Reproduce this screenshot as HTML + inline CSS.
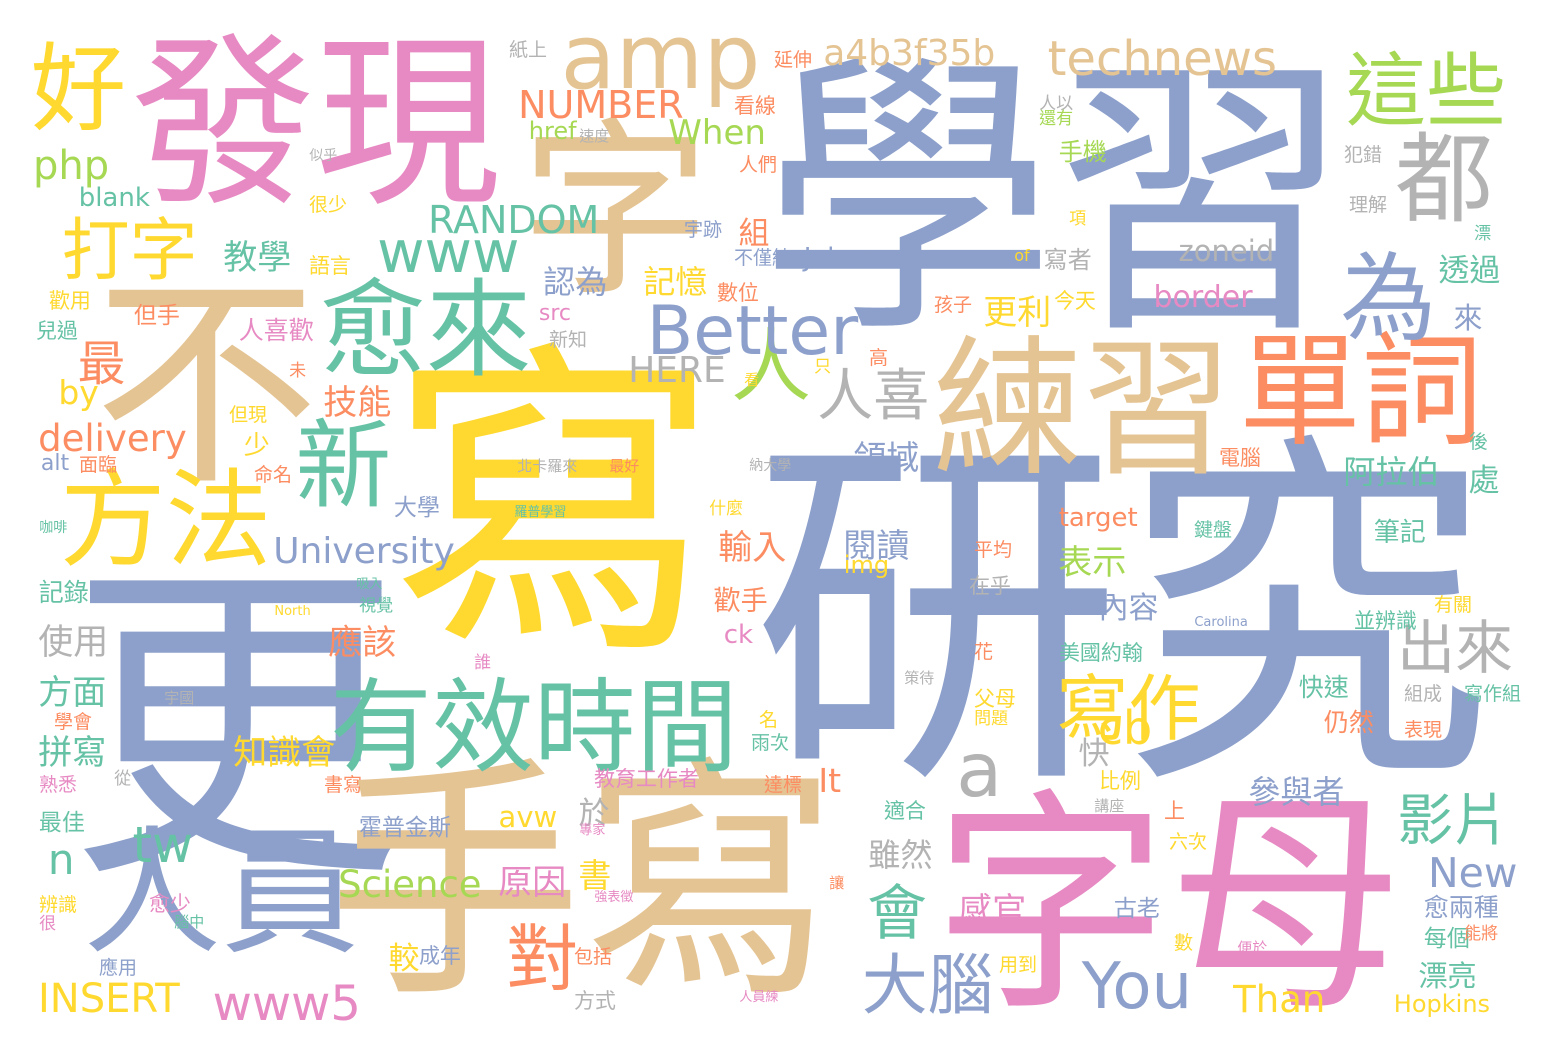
<!DOCTYPE html>
<html><head><meta charset="utf-8">
<style>
html,body{margin:0;padding:0;background:#fff;}
#cloud{position:relative;width:1548px;height:1052px;overflow:hidden;background:#fff;}
#cloud span{position:absolute;line-height:1;white-space:nowrap;font-family:"DejaVu Sans","Noto Sans CJK TC",sans-serif;}
</style></head>
<body>
<div id="cloud"></div>
<script>
const B='#8da0cb',P='#e78ac3',T='#e5c494',Y='#ffd92f',G='#66c2a5',O='#fc8d62',L='#a6d854',R='#b3b3b3';
// [word, glyph-left, glyph-top, font-size, colour]
const words=[
['學習',775,75,295,B],['研究',770,460,370,B],['寫',405,365,330,Y],['更',85,585,335,B],
['不',105,290,225,T],['手寫',340,775,255,T],['字母',945,805,235,P],['發現',140,45,185,P],
['字',530,130,190,T],['人員',90,835,138,B],['練習',940,345,150,T],['單詞',1245,340,122,O],
['愈來',325,285,106,G],['有效時間',335,685,102,G],['新',300,425,96,G],['方法',65,475,106,Y],
['這些',1350,58,80,L],['都',1400,138,98,R],['為',1345,258,96,B],['好',35,48,96,Y],
['amp',565,40,90,T],['a4b3f35b',825,40,36,T],['technews',1050,40,48,T],
['打字',65,223,68,Y],['人',735,333,80,L],['人喜',820,373,56,R],['Better',650,305,68,B],
['www',380,240,58,G],['RANDOM',430,205,38,G],['NUMBER',520,90,38,O],['When',670,120,34,L],
['php',35,150,40,L],['blank',80,188,26,G],['href',530,122,24,L],['教學',225,243,34,G],
['最',80,343,48,O],['by',60,380,33,Y],['delivery',40,424,37,O],['University',275,538,36,B],
['記錄',40,582,25,G],['使用',40,628,35,R],['方面',40,678,34,G],['拼寫',40,738,34,G],
['最佳',40,814,23,G],['n',50,852,42,G],['tw',135,825,50,G],['INSERT',40,983,40,Y],
['www5',215,985,48,P],['Science',340,870,37,L],['原因',500,868,34,P],['對',510,928,72,O],
['大腦',865,958,66,B],['You',1085,962,64,B],['會',870,888,60,G],['寫作',1060,678,72,Y],
['出來',1400,623,58,R],['影片',1400,798,56,G],['漂亮',1420,964,29,G],['New',1430,858,41,B],
['Than',1235,985,37,Y],['Hopkins',1395,995,24,Y],['zoneid',1180,240,29,R],['border',1155,286,30,P],
['透過',1440,258,31,G],['阿拉伯',1345,458,32,G],['處',1470,468,31,G],['筆記',1375,522,26,G],
['a',960,755,75,R],['領域',855,443,33,B],['閱讀',845,531,33,B],['更利',985,298,34,Y],
['HERE',630,357,36,R],['技能',325,388,34,O],['cb',1100,710,46,Y],['參與者',1250,778,32,B],
['表示',1060,548,34,L],['內容',1100,596,30,B],['認為',545,268,32,B],['記憶',645,268,32,Y],
['組',740,221,31,O],['輸入',720,533,34,O],['歡手',715,590,27,O],['應該',330,628,34,O],
['知識會',235,738,34,Y],['雖然',870,841,32,R],['感官',960,896,34,P],['人喜歡',240,320,25,P],
['少',245,435,26,Y],['It',820,768,33,O],['avw',500,812,29,Y],['於',580,801,31,R],
['書',580,861,33,Y],['較',390,946,31,Y],['快速',1300,677,25,G],['快',1080,741,31,R],
['target',1060,508,26,O],['每個',1425,930,23,G],['愈兩種',1425,897,25,B],['古老',1115,900,23,B],
['來',1455,306,29,B],['手機',1060,142,24,L],['Johns',805,248,26,B],['不僅練',735,250,19,B],
['img',845,560,24,Y],['src',540,310,22,P],['新知',550,332,19,R],['alt',42,455,22,B],
['ck',725,625,26,P],['Carolina',1195,617,13,B],['North',275,606,13,Y],['of',1015,250,16,Y],
['寫者',1045,250,24,R],['今天',1055,292,21,Y],['孩子',935,297,19,O],['理解',1350,197,19,R],
['犯錯',1345,147,19,R],['人以',1040,97,17,R],['還有',1040,112,17,L],['紙上',510,42,19,R],
['延伸',775,52,19,O],['看線',735,97,21,O],['速度',580,130,15,R],['似乎',310,150,14,R],
['人們',740,157,19,O],['很少',310,197,19,Y],['宇跡',685,222,19,B],['語言',310,257,21,Y],
['數位',718,284,21,O],['項',1070,212,17,Y],['漂',1475,227,17,G],['歡用',50,292,21,Y],
['但手',135,307,23,O],['兒過',37,322,21,G],['未',290,364,17,O],['只',815,360,17,Y],
['高',870,350,19,O],['看',745,374,15,Y],['但現',230,407,19,Y],['面臨',80,457,19,O],
['北卡羅來',518,460,15,R],['最好',610,460,15,O],['納大學',750,460,14,R],['命名',255,467,19,O],
['電腦',1220,449,21,O],['後',1470,434,19,G],['大學',395,499,23,B],['什麼',710,502,17,Y],
['咖啡',40,522,14,G],['羅普學習',515,507,13,G],['鍵盤',1195,522,19,G],['平均',975,542,19,O],
['在乎',970,577,21,R],['吸入',357,579,13,G],['視覺',360,599,17,G],['有關',1435,597,19,Y],
['並辨識',1355,612,21,G],['花',975,644,19,O],['美國約翰',1060,644,21,G],['誰',475,656,17,P],
['宇國',165,692,15,R],['策待',905,672,15,R],['父母',975,690,21,Y],['組成',1405,686,19,R],
['寫作組',1465,686,19,G],['問題',975,712,17,Y],['學會',55,714,19,O],['名',760,712,19,Y],
['仍然',1325,712,25,O],['雨次',752,735,19,G],['表現',1405,722,19,O],['熟悉',40,777,19,P],
['從',115,772,17,R],['書寫',325,777,19,O],['教育工作者',595,770,21,P],['達標',765,777,19,O],
['比例',1100,772,21,Y],['上',1165,802,21,O],['講座',1095,800,15,R],['適合',885,802,21,G],
['霍普金斯',360,819,23,B],['專家',580,825,13,P],['六次',1170,834,19,Y],['辨識',40,897,19,Y],
['很',40,917,17,P],['愈少',150,895,21,P],['腦中',175,916,15,G],['強表徵',595,892,13,P],
['讓',830,877,15,O],['數',1175,935,19,Y],['能將',1465,927,17,O],['成年',420,947,21,B],
['包括',575,949,19,O],['便於',1238,942,15,P],['應用',100,960,19,B],['用到',1000,957,19,Y],
['方式',575,992,21,R],['人員練',740,992,13,P]
];
const cloud=document.getElementById('cloud');
const cjk=/[\u3400-\u9fff]/;
words.forEach((w,i)=>{
  const [text,gx,gy,size,color]=w;
  const el=document.createElement('span');
  el.textContent=text;
  let top;
  if(cjk.test(text)) top=gy-0.07*size;
  else if(/[A-Z0-9bdfhklt]/.test(text)) top=gy-0.11*size;
  else top=gy-0.3*size;
  el.style.left=(gx-0.05*size)+'px';
  el.style.top=top+'px';
  el.style.fontSize=size+'px';
  el.style.color=color;
  
  
  cloud.appendChild(el);
});
</script>
</body></html>
